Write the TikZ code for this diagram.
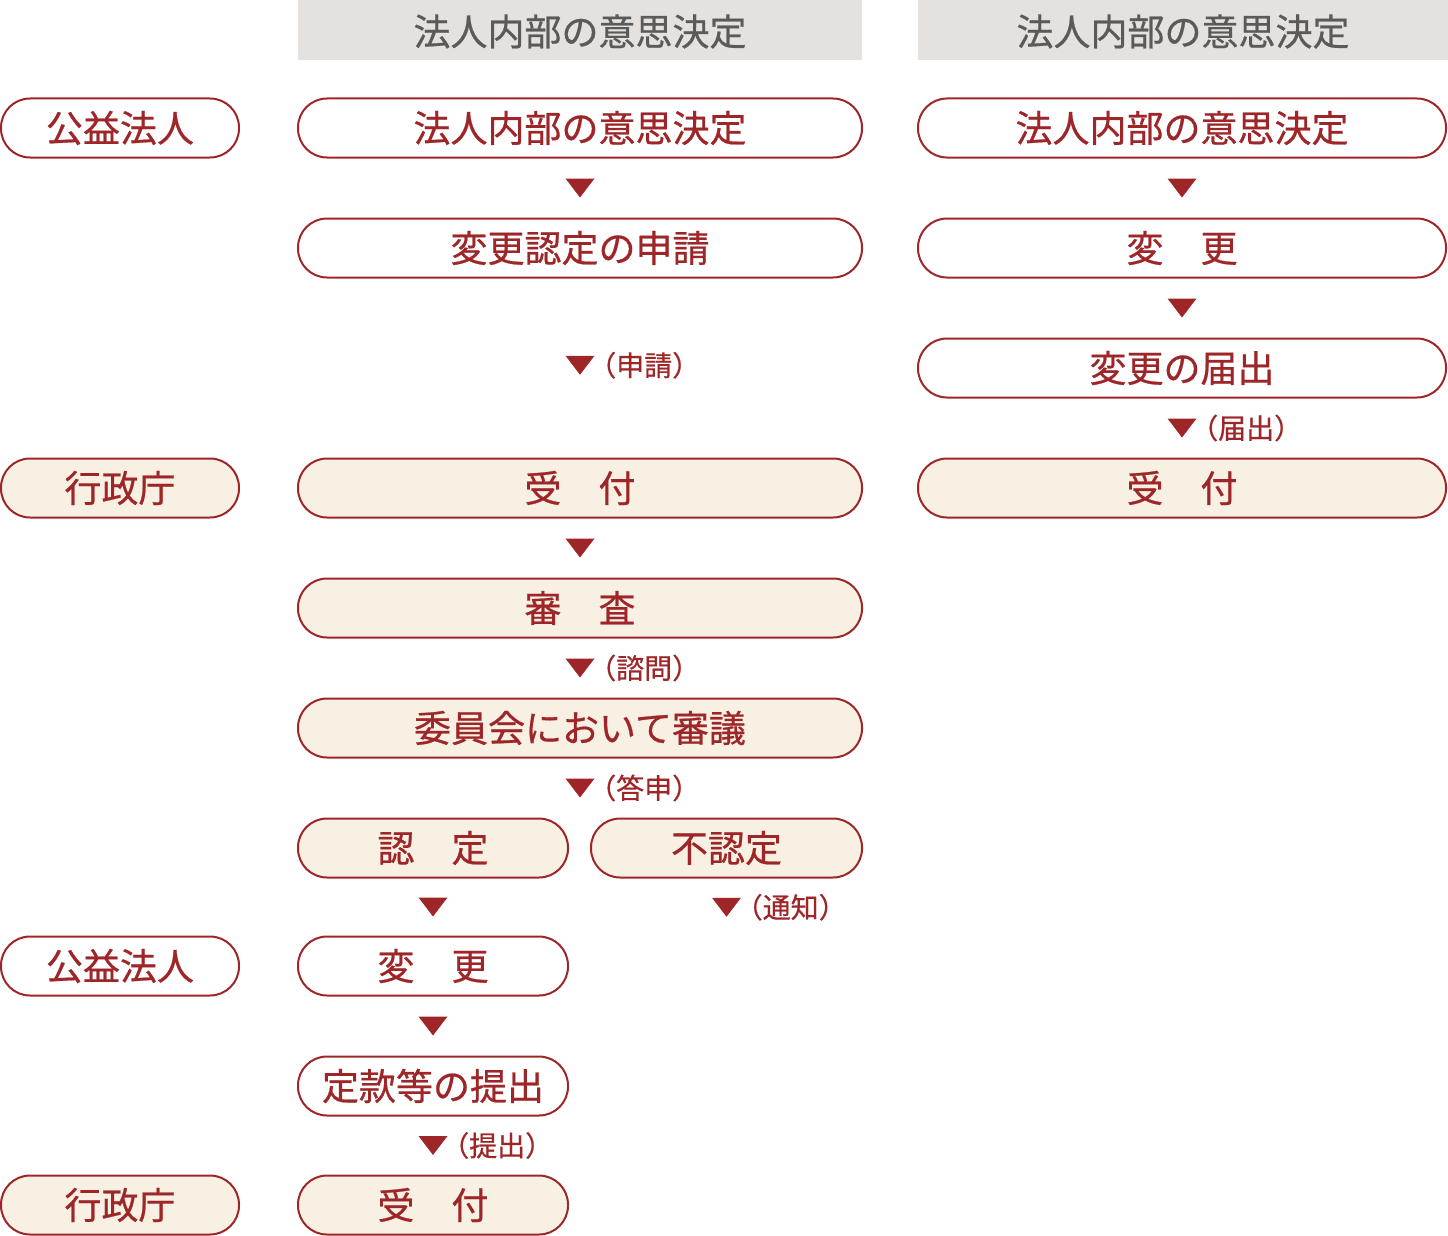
\documentclass[tikz,border=0pt]{standalone}
\usepackage{fontspec}
\setmainfont{Noto Sans CJK JP}
\newfontfamily\jpfont[FakeBold=0.6]{Noto Sans CJK JP}
\usetikzlibrary{calc}
\definecolor{kred}{RGB}{158,38,40}
\definecolor{kcream}{RGB}{247,240,227}
\definecolor{kgray}{RGB}{228,225,223}
\definecolor{ktext}{RGB}{90,90,90}
\tikzset{
  pill/.style={draw=kred, line width=2pt, rounded corners=29pt, minimum height=59pt,
    inner sep=0pt, text=kred, font=\jpfont\fontsize{37}{40}\selectfont},
  wpill/.style={pill, fill=white},
  cpill/.style={pill, fill=kcream},
  head/.style={fill=kgray, minimum height=60pt, inner sep=0pt, text=ktext,
    font=\jpfont\fontsize{37}{40}\selectfont},
  lbl/.style={anchor=west, inner sep=0pt, text=kred, font=\jpfont\fontsize{28}{30}\selectfont},
}
\newcommand\dtri[2]{%
  \fill[kred] ($(#1.south)!0.5!(#2.north)$) ++(-14.5,-9.5) -- ++(29,0) -- ++(-14.5,19) -- cycle;}
\begin{document}
\begin{tikzpicture}[x=1pt,y=-1pt]
\useasboundingbox (0,0) rectangle (1448,1236);
% headers
\fill[kgray] (298,0) rectangle (862,60);
\fill[kgray] (918,0) rectangle (1448,60);
\node[head, fill=none] (h1) at (580,31.5) {法人内部の意思決定};
\node[head, fill=none] (h2) at (1183,31.5) {法人内部の意思決定};
% left labels
\node[wpill, minimum width=238pt] (l1) at (120,128) {公益法人};
\node[cpill, minimum width=238pt] (l2) at (120,488) {行政庁};
\node[wpill, minimum width=238pt] (l3) at (120,966) {公益法人};
\node[cpill, minimum width=238pt] (l4) at (120,1205) {行政庁};
% middle column
\node[wpill, minimum width=564pt] (m1) at (580,128) {法人内部の意思決定};
\node[wpill, minimum width=564pt] (m2) at (580,248) {変更認定の申請};
\node[cpill, minimum width=564pt] (m3) at (580,488) {受　付};
\node[cpill, minimum width=564pt] (m4) at (580,608) {審　査};
\node[cpill, minimum width=564pt] (m5) at (580,728) {委員会において審議};
\node[cpill, minimum width=270pt] (m6) at (433,848) {認　定};
\node[cpill, minimum width=271pt] (m7) at (726.5,848) {不認定};
\node[wpill, minimum width=270pt] (m8) at (433,966) {変　更};
\node[wpill, minimum width=270pt] (m9) at (433,1086) {定款等の提出};
\node[cpill, minimum width=270pt] (m10) at (433,1205) {受　付};
\coordinate (m7end) at (726.5,936);
\coordinate (m2end) at (580,452);
% right column
\node[wpill, minimum width=528pt] (r1) at (1182,128) {法人内部の意思決定};
\node[wpill, minimum width=528pt] (r2) at (1182,248) {変　更};
\node[wpill, minimum width=528pt] (r3) at (1182,368) {変更の届出};
\node[cpill, minimum width=528pt] (r4) at (1182,488) {受　付};
% triangles (connectors)
\dtri{m1}{m2}
\dtri{m2}{m2end}
\dtri{m3}{m4}
\dtri{m4}{m5}
\dtri{m5}{m6.north -| m5}
\dtri{m6}{m8}
\dtri{m7}{m7end}
\dtri{m8}{m9}
\dtri{m9}{m10}
\dtri{r1}{r2}
\dtri{r2}{r3}
\dtri{r3}{r4}
% labels
\node[lbl] (a1) at ($(m2.south)!0.5!(m2end)+(8,0)$) {（申請）};
\node[lbl] (a2) at ($(m4.south)!0.5!(m5.north)+(8,0)$) {（諮問）};
\node[lbl] (a3) at ($(m5.south)!0.5!(m6.north -| m5)+(8,0)$) {（答申）};
\node[lbl] (a4) at ($(m7.south)!0.5!(m7end)+(8,0)$) {（通知）};
\node[lbl] (a5) at ($(m9.south)!0.5!(m10.north)+(8,0)$) {（提出）};
\node[lbl] (a6) at ($(r3.south)!0.5!(r4.north)+(8,0)$) {（届出）};
\end{tikzpicture}
\end{document}
